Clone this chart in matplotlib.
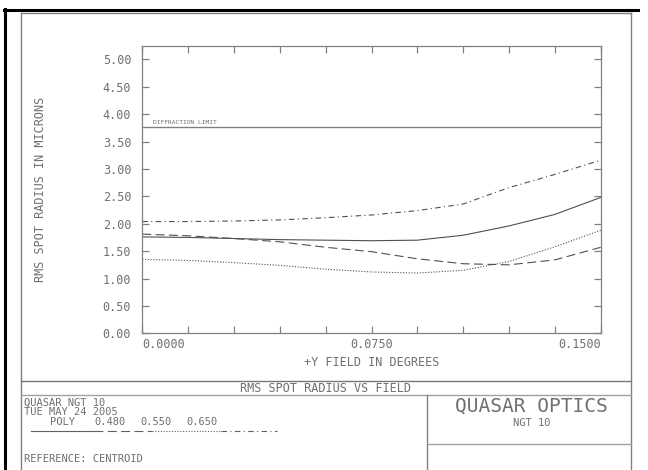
import numpy as np
import matplotlib
matplotlib.use('Agg')
import matplotlib.pyplot as plt
from matplotlib.lines import Line2D

W, H = 648, 470
FONT = 'DejaVu Sans Mono'
TXT = '#707070'
plt.rcParams['font.family'] = FONT

# field points (degrees) and rms spot radius (microns)
field = [0.0, 0.015, 0.03, 0.045, 0.06, 0.075, 0.09, 0.105, 0.12, 0.135, 0.15]
poly = [1.76, 1.75, 1.73, 1.71, 1.70, 1.69, 1.70, 1.79, 1.96, 2.17, 2.48]
w480 = [1.81, 1.78, 1.73, 1.67, 1.57, 1.49, 1.36, 1.27, 1.25, 1.34, 1.57]
w550 = [1.35, 1.33, 1.29, 1.24, 1.17, 1.12, 1.10, 1.15, 1.31, 1.58, 1.88]
w650 = [2.04, 2.04, 2.05, 2.07, 2.11, 2.16, 2.24, 2.36, 2.66, 2.90, 3.16]
diff_limit = 3.76

yticks = np.arange(0, 5.01, 0.5)
xticks = np.arange(0, 0.1501, 0.015)
xlabels = {0: '0.0000', 5: '0.0750', 10: '0.1500'}
legend_words = ['POLY', '0.480', '0.550', '0.650']


def fx(px):
    return px / W


def fy(py):
    return 1 - py / H


fig = plt.figure(figsize=(W / 100, H / 100), dpi=100)
ax = fig.add_axes([fx(142.3), fy(333.3), fx(600.7) - fx(142.3), fy(45.7) - fy(333.3)])

styles = [('-', poly), ((0, (8, 4)), w480), ((0, (1, 1.5)), w550), ((0, (5, 3, 1, 3)), w650)]
for ls, vals in styles:
    ax.plot(field, vals, color='#505050', lw=0.8, ls=ls)
ax.axhline(diff_limit, color='#808080', lw=1.0)
ax.text(0.0035, diff_limit + 0.05, 'DIFFRACTION LIMIT', fontsize=4.5, color=TXT, va='bottom')

ax.set_xlim(0, 0.15)
ax.set_ylim(0, 5.25)
ax.set_yticks(yticks)
ax.set_yticklabels(['%.2f' % v for v in yticks])
ax.set_xticks(xticks)
ax.set_xticklabels([''] * len(xticks))
for s in ax.spines.values():
    s.set_color('#808080')
    s.set_linewidth(0.9)
ax.tick_params(direction='in', length=5, width=0.9, color='#808080',
               top=True, right=True, labelsize=8.5, labelcolor=TXT, pad=8)
ax.tick_params(axis='x', pad=0)
for i, lab in xlabels.items():
    ha = 'left' if i == 0 else ('right' if i == 10 else 'center')
    ax.text(xticks[i], -0.2, lab, fontsize=8.5, color=TXT, ha=ha, va='center')
fig.text(fx(41), fy(189), 'RMS SPOT RADIUS IN MICRONS', rotation=90, fontsize=8.5,
         color=TXT, ha='center', va='center')
fig.text(fx(371.5), fy(362.5), '+Y FIELD IN DEGREES', fontsize=8.5, color=TXT,
         ha='center', va='center')


def hline(y, x0, x1, c='#808080', lw=1.0):
    fig.add_artist(Line2D([fx(x0), fx(x1)], [fy(y), fy(y)], color=c, lw=lw))


def vline(x, y0, y1, c='#808080', lw=1.0):
    fig.add_artist(Line2D([fx(x), fx(x)], [fy(y0), fy(y1)], color=c, lw=lw))


# outer black border
hline(10, 4, 638, c='black', lw=2.2)
vline(5, 9, 470, c='black', lw=2.2)
# gray frame
hline(13.3, 20.5, 631.3)
vline(20.5, 13.3, 470)
vline(631.3, 13.3, 470)
hline(380.7, 20.5, 631.3, c='#777777')
hline(395.3, 20.5, 631.3, c='#a0a0a0')
vline(427.3, 395.3, 470)
hline(444, 427.3, 631.3, c='#a0a0a0')

fig.text(fx(326), fy(388), 'RMS SPOT RADIUS VS FIELD', fontsize=8.5, color=TXT,
         ha='center', va='center')
fig.text(fx(24), fy(403), 'QUASAR NGT 10', fontsize=7.5, color=TXT, va='center')
fig.text(fx(24), fy(412.3), 'TUE MAY 24 2005', fontsize=7.5, color=TXT, va='center')
for xw, word in zip([50, 94, 140, 186], legend_words):
    fig.text(fx(xw), fy(421.6), word, fontsize=7.5, color=TXT, va='center')
fig.text(fx(24), fy(459), 'REFERENCE: CENTROID', fontsize=7.5, color=TXT, va='center')
fig.text(fx(531), fy(406), 'QUASAR OPTICS', fontsize=14, color=TXT, ha='center', va='center')
fig.text(fx(532), fy(423.5), 'NGT 10', fontsize=7.5, color=TXT, ha='center', va='center')

# legend samples
seg = [(31, 94), (94, 152), (152, 221), (221, 277)]
for (x0, x1), (ls, _) in zip(seg, styles):
    fig.add_artist(Line2D([fx(x0), fx(x1)], [fy(431), fy(431)], color='#606060',
                          lw=0.8, ls=ls))

fig.savefig('out.png', dpi=100)
